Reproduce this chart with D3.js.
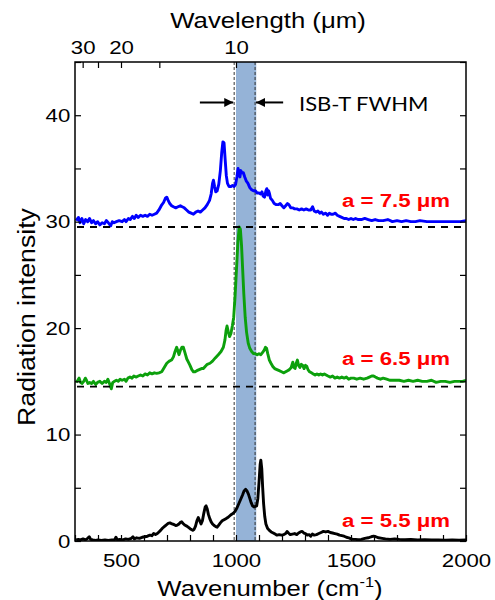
<!DOCTYPE html>
<html>
<head>
<meta charset="utf-8">
<style>
  body { margin: 0; background: #fff; }
  text { font-family: "Liberation Sans", Arial, sans-serif; }
</style>
</head>
<body>
<svg id="chart" width="495" height="600"></svg>
<script src="https://d3js.org/d3.v7.min.js"></script>
<script>

// spectra, [wavenumber (cm-1), intensity]
var a75 = [[305,30.1],[315,30.4],[322,29.9],[330,30.3],[338,29.8],[346,30.2],[355,30.0],[363,30.3],[372,29.9],[380,30.1],[390,29.8],[398,30.0],[408,29.7],[418,29.9],[428,29.8],[436,30.1],[445,29.9],[455,29.6],[462,30.0],[470,29.9],[480,30.0],[492,30.1],[505,30.0],[515,30.2],[522,30.0],[532,30.3],[540,30.2],[550,30.5],[558,30.3],[566,30.6],[575,30.4],[585,30.6],[595,30.5],[605,30.6],[615,30.5],[625,30.7],[635,30.6],[645,30.7],[655,30.8],[665,31.1],[675,31.5],[685,31.8],[693,32.2],[699,32.3],[705,32.0],[712,31.7],[720,31.5],[728,31.4],[738,31.3],[748,31.4],[758,31.5],[766,31.4],[775,31.3],[785,31.1],[795,30.9],[805,30.8],[815,30.7],[825,30.9],[835,31.0],[845,30.9],[855,31.1],[865,31.3],[875,31.6],[885,32.0],[892,32.6],[898,33.6],[902,33.9],[907,33.3],[912,32.8],[918,32.9],[925,33.5],[932,34.8],[938,36.5],[943,37.5],[948,37.4],[953,35.8],[958,34.3],[963,33.6],[970,33.3],[978,33.3],[985,33.4],[992,33.3],[998,33.5],[1004,34.2],[1009,35.0],[1013,34.5],[1017,34.2],[1021,34.8],[1026,34.6],[1032,34.6],[1038,34.2],[1045,33.8],[1052,33.6],[1060,33.2],[1068,33.0],[1076,32.9],[1084,32.9],[1092,32.7],[1100,32.7],[1107,32.6],[1113,32.8],[1118,32.4],[1124,32.3],[1130,32.9],[1134,33.1],[1138,32.5],[1142,32.9],[1146,32.6],[1150,32.2],[1158,32.0],[1166,31.7],[1175,31.6],[1184,31.6],[1192,31.7],[1200,31.5],[1208,31.3],[1216,31.5],[1224,31.7],[1230,31.6],[1238,31.3],[1246,31.3],[1255,31.2],[1265,31.2],[1275,31.1],[1285,31.2],[1295,31.1],[1305,31.2],[1315,31.1],[1325,31.1],[1333,31.4],[1340,31.0],[1348,30.9],[1356,31.0],[1364,30.8],[1372,30.9],[1380,30.7],[1390,30.8],[1398,30.6],[1406,30.8],[1414,30.7],[1422,30.7],[1432,30.8],[1440,30.6],[1450,30.5],[1460,30.4],[1470,30.3],[1480,30.3],[1490,30.2],[1500,30.3],[1510,30.2],[1520,30.3],[1530,30.2],[1545,30.2],[1560,30.3],[1575,30.2],[1590,30.1],[1605,30.2],[1620,30.1],[1640,30.1],[1660,30.2],[1680,30.0],[1700,30.1],[1720,30.0],[1740,30.1],[1760,30.0],[1780,30.0],[1800,30.1],[1830,30.0],[1860,30.0],[1890,30.0],[1920,30.0],[1950,30.0],[1975,30.0],[2000,30.1]];

var a65 = [[305,14.9],[312,15.1],[318,15.3],[324,14.9],[330,14.8],[338,15.0],[345,15.3],[350,15.1],[356,14.8],[364,14.9],[372,14.8],[380,15.0],[390,14.7],[398,14.9],[408,15.0],[418,14.8],[428,15.0],[436,14.9],[443,15.2],[450,14.8],[458,14.3],[464,14.9],[472,15.0],[480,15.1],[488,15.0],[496,15.2],[505,15.1],[515,15.2],[522,15.0],[530,15.3],[539,15.4],[548,15.3],[556,15.5],[565,15.4],[575,15.5],[585,15.6],[595,15.5],[605,15.7],[615,15.6],[625,15.8],[635,15.7],[645,15.8],[655,15.75],[665,15.8],[677,15.9],[688,16.3],[699,16.7],[710,16.9],[720,17.0],[728,17.3],[735,17.8],[742,18.2],[748,17.8],[752,17.5],[758,17.9],[765,18.2],[771,18.2],[778,17.7],[786,17.1],[793,16.8],[800,16.5],[808,16.1],[815,15.9],[822,15.9],[830,16.0],[840,16.1],[850,16.2],[858,16.2],[866,16.4],[875,16.6],[887,16.7],[898,16.9],[910,17.2],[923,17.5],[935,17.8],[945,18.2],[952,18.9],[957,19.8],[961,20.2],[966,19.7],[972,19.2],[978,19.5],[984,20.2],[990,21.0],[996,23.0],[1002,25.5],[1008,28.0],[1014,29.5],[1019,29.3],[1024,27.8],[1029,25.5],[1034,23.2],[1040,21.0],[1046,19.6],[1053,18.6],[1060,18.1],[1068,17.8],[1076,17.6],[1084,17.6],[1092,17.5],[1100,17.6],[1108,17.5],[1115,17.7],[1122,17.9],[1128,18.2],[1133,18.1],[1138,17.6],[1145,17.0],[1152,16.7],[1160,16.4],[1168,16.2],[1178,16.1],[1188,16.0],[1198,15.9],[1208,15.8],[1216,15.9],[1224,16.0],[1232,16.1],[1240,16.3],[1247,16.8],[1252,16.3],[1257,16.2],[1262,16.7],[1267,17.0],[1272,16.5],[1278,16.3],[1284,16.6],[1290,16.5],[1296,16.2],[1302,16.5],[1308,16.4],[1313,16.1],[1320,15.9],[1328,15.8],[1336,15.7],[1344,15.6],[1352,15.7],[1360,15.6],[1368,15.7],[1376,15.6],[1384,15.7],[1392,15.6],[1400,15.5],[1410,15.4],[1420,15.5],[1430,15.3],[1440,15.4],[1450,15.3],[1460,15.4],[1470,15.3],[1480,15.4],[1490,15.2],[1500,15.3],[1512,15.3],[1525,15.2],[1540,15.3],[1555,15.2],[1570,15.3],[1580,15.4],[1590,15.5],[1598,15.5],[1606,15.4],[1615,15.3],[1628,15.2],[1640,15.3],[1655,15.2],[1670,15.1],[1690,15.1],[1710,15.1],[1730,15.0],[1750,15.1],[1770,15.0],[1790,15.1],[1810,15.0],[1830,15.0],[1850,15.1],[1870,14.9],[1890,15.0],[1910,15.0],[1930,14.9],[1950,15.0],[1970,15.0],[1985,15.0],[2000,15.1]];

var a55 = [[305,0.1],[315,0.15],[325,0.1],[335,0.2],[345,0.1],[355,0.25],[362,0.4],[368,0.15],[378,0.1],[390,0.05],[400,0.1],[415,0.05],[430,0.1],[445,0.05],[460,0.1],[472,0.1],[478,0.35],[484,0.1],[495,0.15],[508,0.1],[520,0.2],[532,0.15],[545,0.25],[552,0.4],[558,0.2],[568,0.3],[580,0.25],[592,0.35],[604,0.4],[615,0.45],[626,0.55],[634,0.5],[642,0.7],[650,0.6],[658,0.7],[665,0.85],[672,1.0],[680,1.2],[688,1.35],[696,1.5],[705,1.65],[713,1.7],[722,1.6],[730,1.55],[738,1.45],[745,1.5],[752,1.6],[758,1.75],[764,1.8],[770,1.65],[777,1.5],[786,1.4],[795,1.25],[804,1.1],[812,1.0],[818,1.1],[824,1.4],[830,1.9],[836,2.2],[842,1.9],[848,1.6],[854,1.9],[860,2.6],[866,3.2],[870,3.3],[875,3.0],[880,2.5],[886,2.1],[892,1.8],[898,1.6],[905,1.45],[912,1.35],[918,1.3],[925,1.5],[932,1.7],[940,1.9],[948,2.0],[956,2.1],[964,2.2],[972,2.35],[980,2.5],[988,2.6],[996,2.8],[1004,3.1],[1012,3.5],[1020,3.9],[1028,4.3],[1035,4.7],[1042,4.85],[1048,4.7],[1054,4.4],[1060,4.0],[1066,3.6],[1072,3.3],[1078,3.2],[1084,3.25],[1090,3.3],[1095,4.0],[1100,5.5],[1105,7.2],[1108,7.6],[1112,6.8],[1116,5.0],[1120,3.5],[1125,2.3],[1130,1.6],[1137,1.2],[1145,1.0],[1153,0.85],[1162,0.75],[1170,0.65],[1178,0.55],[1188,0.6],[1198,0.55],[1208,0.6],[1216,0.7],[1222,0.9],[1228,0.75],[1236,0.6],[1245,0.65],[1255,0.7],[1264,0.6],[1272,0.75],[1280,0.85],[1288,0.9],[1295,0.75],[1302,0.7],[1310,0.55],[1318,0.6],[1325,0.45],[1332,0.65],[1340,0.55],[1350,0.6],[1360,0.7],[1370,0.8],[1380,0.9],[1390,0.85],[1400,0.9],[1410,0.8],[1420,0.75],[1430,0.7],[1440,0.65],[1450,0.55],[1460,0.5],[1470,0.45],[1480,0.35],[1490,0.3],[1500,0.2],[1510,0.15],[1520,0.15],[1530,0.12],[1545,0.15],[1560,0.25],[1575,0.3],[1588,0.4],[1598,0.45],[1608,0.4],[1620,0.3],[1635,0.25],[1650,0.2],[1670,0.15],[1690,0.2],[1710,0.15],[1735,0.12],[1760,0.15],[1790,0.1],[1820,0.12],[1850,0.1],[1880,0.1],[1910,0.08],[1940,0.1],[1970,0.08],[2000,0.1]];

var seriesNames = ["a = 7.5 \u03bcm", "a = 6.5 \u03bcm", "a = 5.5 \u03bcm"];
var seriesColors = ["#0000ff", "#0ca00c", "#000000"];
var baselines = [29.5, 14.5];
var band = [1000, 1088];           // ISB-T FWHM shading
var bandLines = [992, 1083];       // dashed verticals
var wavelengthTicks = [30, 25, 20, 15, 10];
var wavelengthLabels = [30, 20, 10];

var svg = d3.select("#chart");
var pL = 75, pR = 466, pT = 62, pB = 541;
var sx = 1.17; // the original text is a bit wider than the font

var x = d3.scaleLinear().domain([300, 2000]).range([pL, pR]);
var y = d3.scaleLinear().domain([0, 45]).range([pB, pT]);

svg.append("clipPath").attr("id", "clip")
  .append("rect").attr("x", pL).attr("y", pT)
  .attr("width", pR - pL).attr("height", pB - pT);

var plot = svg.append("g").attr("clip-path", "url(#clip)");

plot.append("rect")
  .attr("x", x(band[0])).attr("y", pT)
  .attr("width", x(band[1]) - x(band[0])).attr("height", pB - pT)
  .attr("fill", "#95b3d7");

plot.selectAll(".vline").data(bandLines).enter().append("line")
  .attr("x1", function(d) { return x(d); }).attr("x2", function(d) { return x(d); })
  .attr("y1", pT).attr("y2", pB)
  .attr("stroke", "#333").attr("stroke-width", 1).attr("stroke-dasharray", "3,2");

var line = d3.line()
  .x(function(d) { return x(d[0]); })
  .y(function(d) { return y(d[1]); });

plot.selectAll(".spec").data([a75, a65, a55]).enter().append("path")
  .attr("d", line)
  .attr("fill", "none")
  .attr("stroke", function(d, i) { return seriesColors[i]; })
  .attr("stroke-width", 2.9)
  .attr("stroke-linejoin", "round");

plot.selectAll(".base").data(baselines).enter().append("line")
  .attr("x1", pL + 2).attr("x2", pR)
  .attr("y1", function(d) { return y(d); }).attr("y2", function(d) { return y(d); })
  .attr("stroke", "#000").attr("stroke-width", 1.8).attr("stroke-dasharray", "7,6");

// axes
function styleAxis(g) {
  g.select(".domain").remove();
  g.selectAll(".tick line").attr("stroke", "#000").attr("stroke-width", 1.2);
  g.selectAll("text").attr("fill", "#000")
    .style("font-family", "'Liberation Sans', Arial, sans-serif")
    .style("font-size", "19px")
    .attr("transform", "scale(" + sx + ",1)");
}

svg.append("g").attr("transform", "translate(0," + pB + ")")
  .call(d3.axisBottom(x).tickValues(d3.range(300, 2001, 100)).tickSize(-6).tickPadding(13)
    .tickFormat(function(d) { return d % 500 === 0 ? d : ""; }))
  .call(styleAxis);

svg.append("g").attr("transform", "translate(0," + pT + ")")
  .call(d3.axisTop(x).tickValues(wavelengthTicks.map(function(l) { return 1e4 / l; }))
    .tickSize(-6).tickPadding(8)
    .tickFormat(function(d) {
      var l = Math.round(1e4 / d);
      return wavelengthLabels.indexOf(l) >= 0 ? l : "";
    }))
  .call(styleAxis);

svg.append("g").attr("transform", "translate(" + pL + ",0)")
  .call(d3.axisLeft(y).tickValues(d3.range(0, 46, 5)).tickSize(-6).tickPadding(4)
    .tickFormat(function(d) { return d % 10 === 0 ? d : ""; }))
  .call(styleAxis);

svg.append("g").attr("transform", "translate(" + pR + ",0)")
  .call(d3.axisRight(y).tickValues(d3.range(0, 46, 5)).tickSize(-6).tickFormat(""))
  .call(styleAxis);

svg.append("rect")
  .attr("x", pL).attr("y", pT)
  .attr("width", pR - pL).attr("height", pB - pT)
  .attr("fill", "none").attr("stroke", "#000").attr("stroke-width", 1.5);

// titles
var bt = svg.append("text")
  .attr("transform", "translate(270,596) scale(" + sx + ",1)")
  .attr("text-anchor", "middle").style("font-size", "22px");
bt.append("tspan").text("Wavenumber (cm");
bt.append("tspan").text("-1").attr("dy", -9).style("font-size", "14px");
bt.append("tspan").text(")").attr("dy", 9);

svg.append("text")
  .attr("transform", "translate(268,28) scale(" + sx + ",1)")
  .attr("text-anchor", "middle").style("font-size", "22px")
  .text("Wavelength (\u03bcm)");

svg.append("text")
  .attr("transform", "translate(35,317) rotate(-90) scale(1.16,1)")
  .attr("text-anchor", "middle").style("font-size", "23px")
  .text("Radiation intensity");

// FWHM arrows
svg.append("defs").append("marker")
  .attr("id", "head").attr("viewBox", "0 0 10 10")
  .attr("refX", 10).attr("refY", 5)
  .attr("markerWidth", 4.5).attr("markerHeight", 4.5)
  .attr("orient", "auto")
  .append("path").attr("d", "M0,0L10,5L0,10Z").attr("fill", "#000");

var arrowY = 41.2;
[[843, 988], [1205, 1087]].forEach(function(a) {
  svg.append("line")
    .attr("x1", x(a[0])).attr("x2", x(a[1]))
    .attr("y1", y(arrowY)).attr("y2", y(arrowY))
    .attr("stroke", "#000").attr("stroke-width", 2)
    .attr("marker-end", "url(#head)");
});

svg.append("text")
  .attr("transform", "translate(299,111) scale(1.1,1)")
  .style("font-family", "Lato, 'Open Sans', sans-serif")
  .style("font-size", "20px")
  .text("ISB-T FWHM");

// series labels
var labelY = [206.5, 365, 526.5];
seriesNames.forEach(function(n, i) {
  svg.append("text")
    .attr("transform", "translate(342," + labelY[i] + ") scale(" + sx + ",1)")
    .attr("fill", "#ff0000").style("font-weight", "bold").style("font-size", "19px")
    .text(n);
});

</script>
</body>
</html>
